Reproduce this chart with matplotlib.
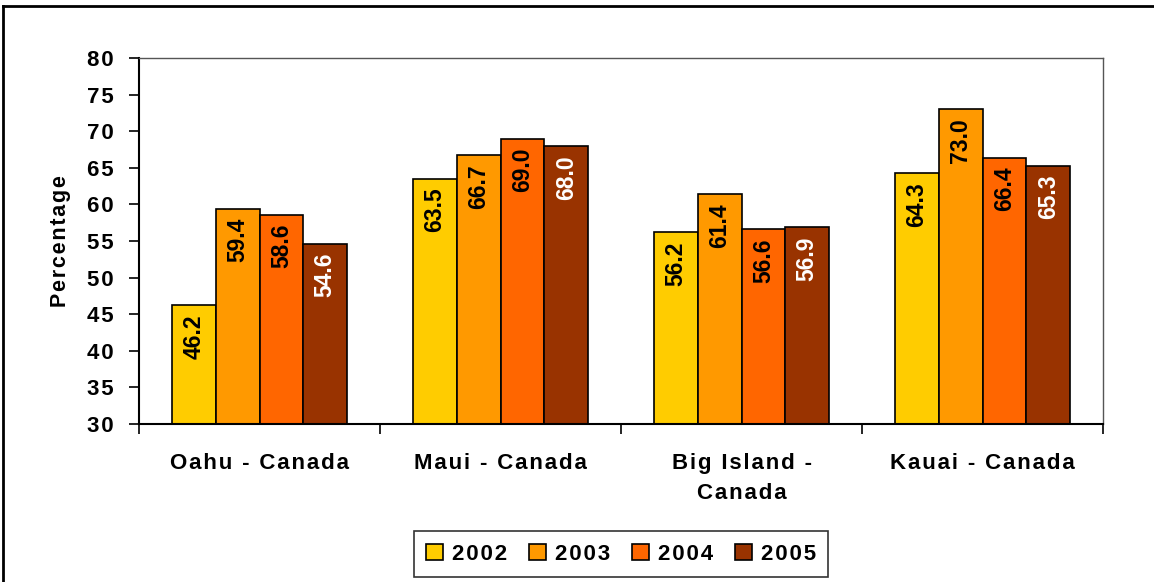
import matplotlib.pyplot as plt
import numpy as np
from matplotlib.lines import Line2D

plt.rcParams['font.family'] = ['Liberation Sans', 'DejaVu Sans']
plt.rcParams['font.weight'] = 'bold'

categories = ['Oahu - Canada', 'Maui - Canada', 'Big Island -\nCanada', 'Kauai - Canada']
years = ['2002', '2003', '2004', '2005']
values = {
    '2002': [46.2, 63.5, 56.2, 64.3],
    '2003': [59.4, 66.7, 61.4, 73.0],
    '2004': [58.6, 69.0, 56.6, 66.4],
    '2005': [54.6, 68.0, 56.9, 65.3],
}
colors = ['#FFCC00', '#FF9900', '#FF6600', '#993300']
label_colors = ['black', 'black', 'black', 'white']


def spaced(s):
    # the original chart uses wide letter spacing; mimic it with hair spaces
    return '\n'.join('\u200a'.join(line) for line in s.split('\n'))


fig = plt.figure(figsize=(11.54, 5.82), dpi=100)
ax = fig.add_axes([0.1205, 0.2715, 0.8353, 0.6288])

x = np.arange(len(categories))
width = 0.182
for i, yr in enumerate(years):
    pos = x + (i - 1.5) * width
    bars = ax.bar(pos, values[yr], width, bottom=0, color=colors[i],
                  edgecolor='black', linewidth=1.2, label=spaced(yr), zorder=2)
    for b, v in zip(bars, values[yr]):
        ax.annotate(f'{v:.1f}', xy=(b.get_x() + b.get_width() / 2, v),
                    xytext=(0, -6.5), textcoords='offset points',
                    rotation=90, ha='center', va='top',
                    fontsize=16.5, fontweight='bold', color=label_colors[i])

ax.set_ylim(30, 80)
ax.set_xlim(-0.5, 3.5)
yt = np.arange(30, 81, 5)
ax.set_yticks(yt)
ax.set_yticklabels([spaced(str(t)) for t in yt], fontsize=16, fontweight='bold')
ax.tick_params(axis='y', length=7, width=1.2, pad=11)
ax.set_xticks(x)
ax.set_xticklabels([spaced(c) for c in categories], fontsize=16,
                   fontweight='bold', linespacing=1.55)
ax.tick_params(axis='x', which='major', length=0, pad=21)
ax.set_xticks(np.arange(-0.5, 4, 1), minor=True)
ax.tick_params(axis='x', which='minor', length=7, width=1.2)
ax.set_ylabel(spaced('Percentage'), fontsize=15.5, fontweight='bold', labelpad=12)

for s in ['left', 'bottom']:
    ax.spines[s].set_linewidth(1.5)
for s in ['top', 'right']:
    ax.spines[s].set_linewidth(1.0)
    ax.spines[s].set_color('#555555')

leg = ax.legend(loc='upper center', bbox_to_anchor=(0.5, -0.263), ncol=4,
                frameon=True, fancybox=False, edgecolor='black',
                prop={'size': 16, 'weight': 'bold'},
                handlelength=0.75, handleheight=0.75, handletextpad=0.4,
                columnspacing=1.0, borderpad=0.55)
leg.get_frame().set_linewidth(1.2)

# outer chart frame
fig.add_artist(Line2D([0.003, 0.003], [0, 0.99], transform=fig.transFigure,
                      color='black', linewidth=2))
fig.add_artist(Line2D([0.003, 1.0], [0.99, 0.99], transform=fig.transFigure,
                      color='black', linewidth=2))

fig.savefig('out.png', dpi=100)
